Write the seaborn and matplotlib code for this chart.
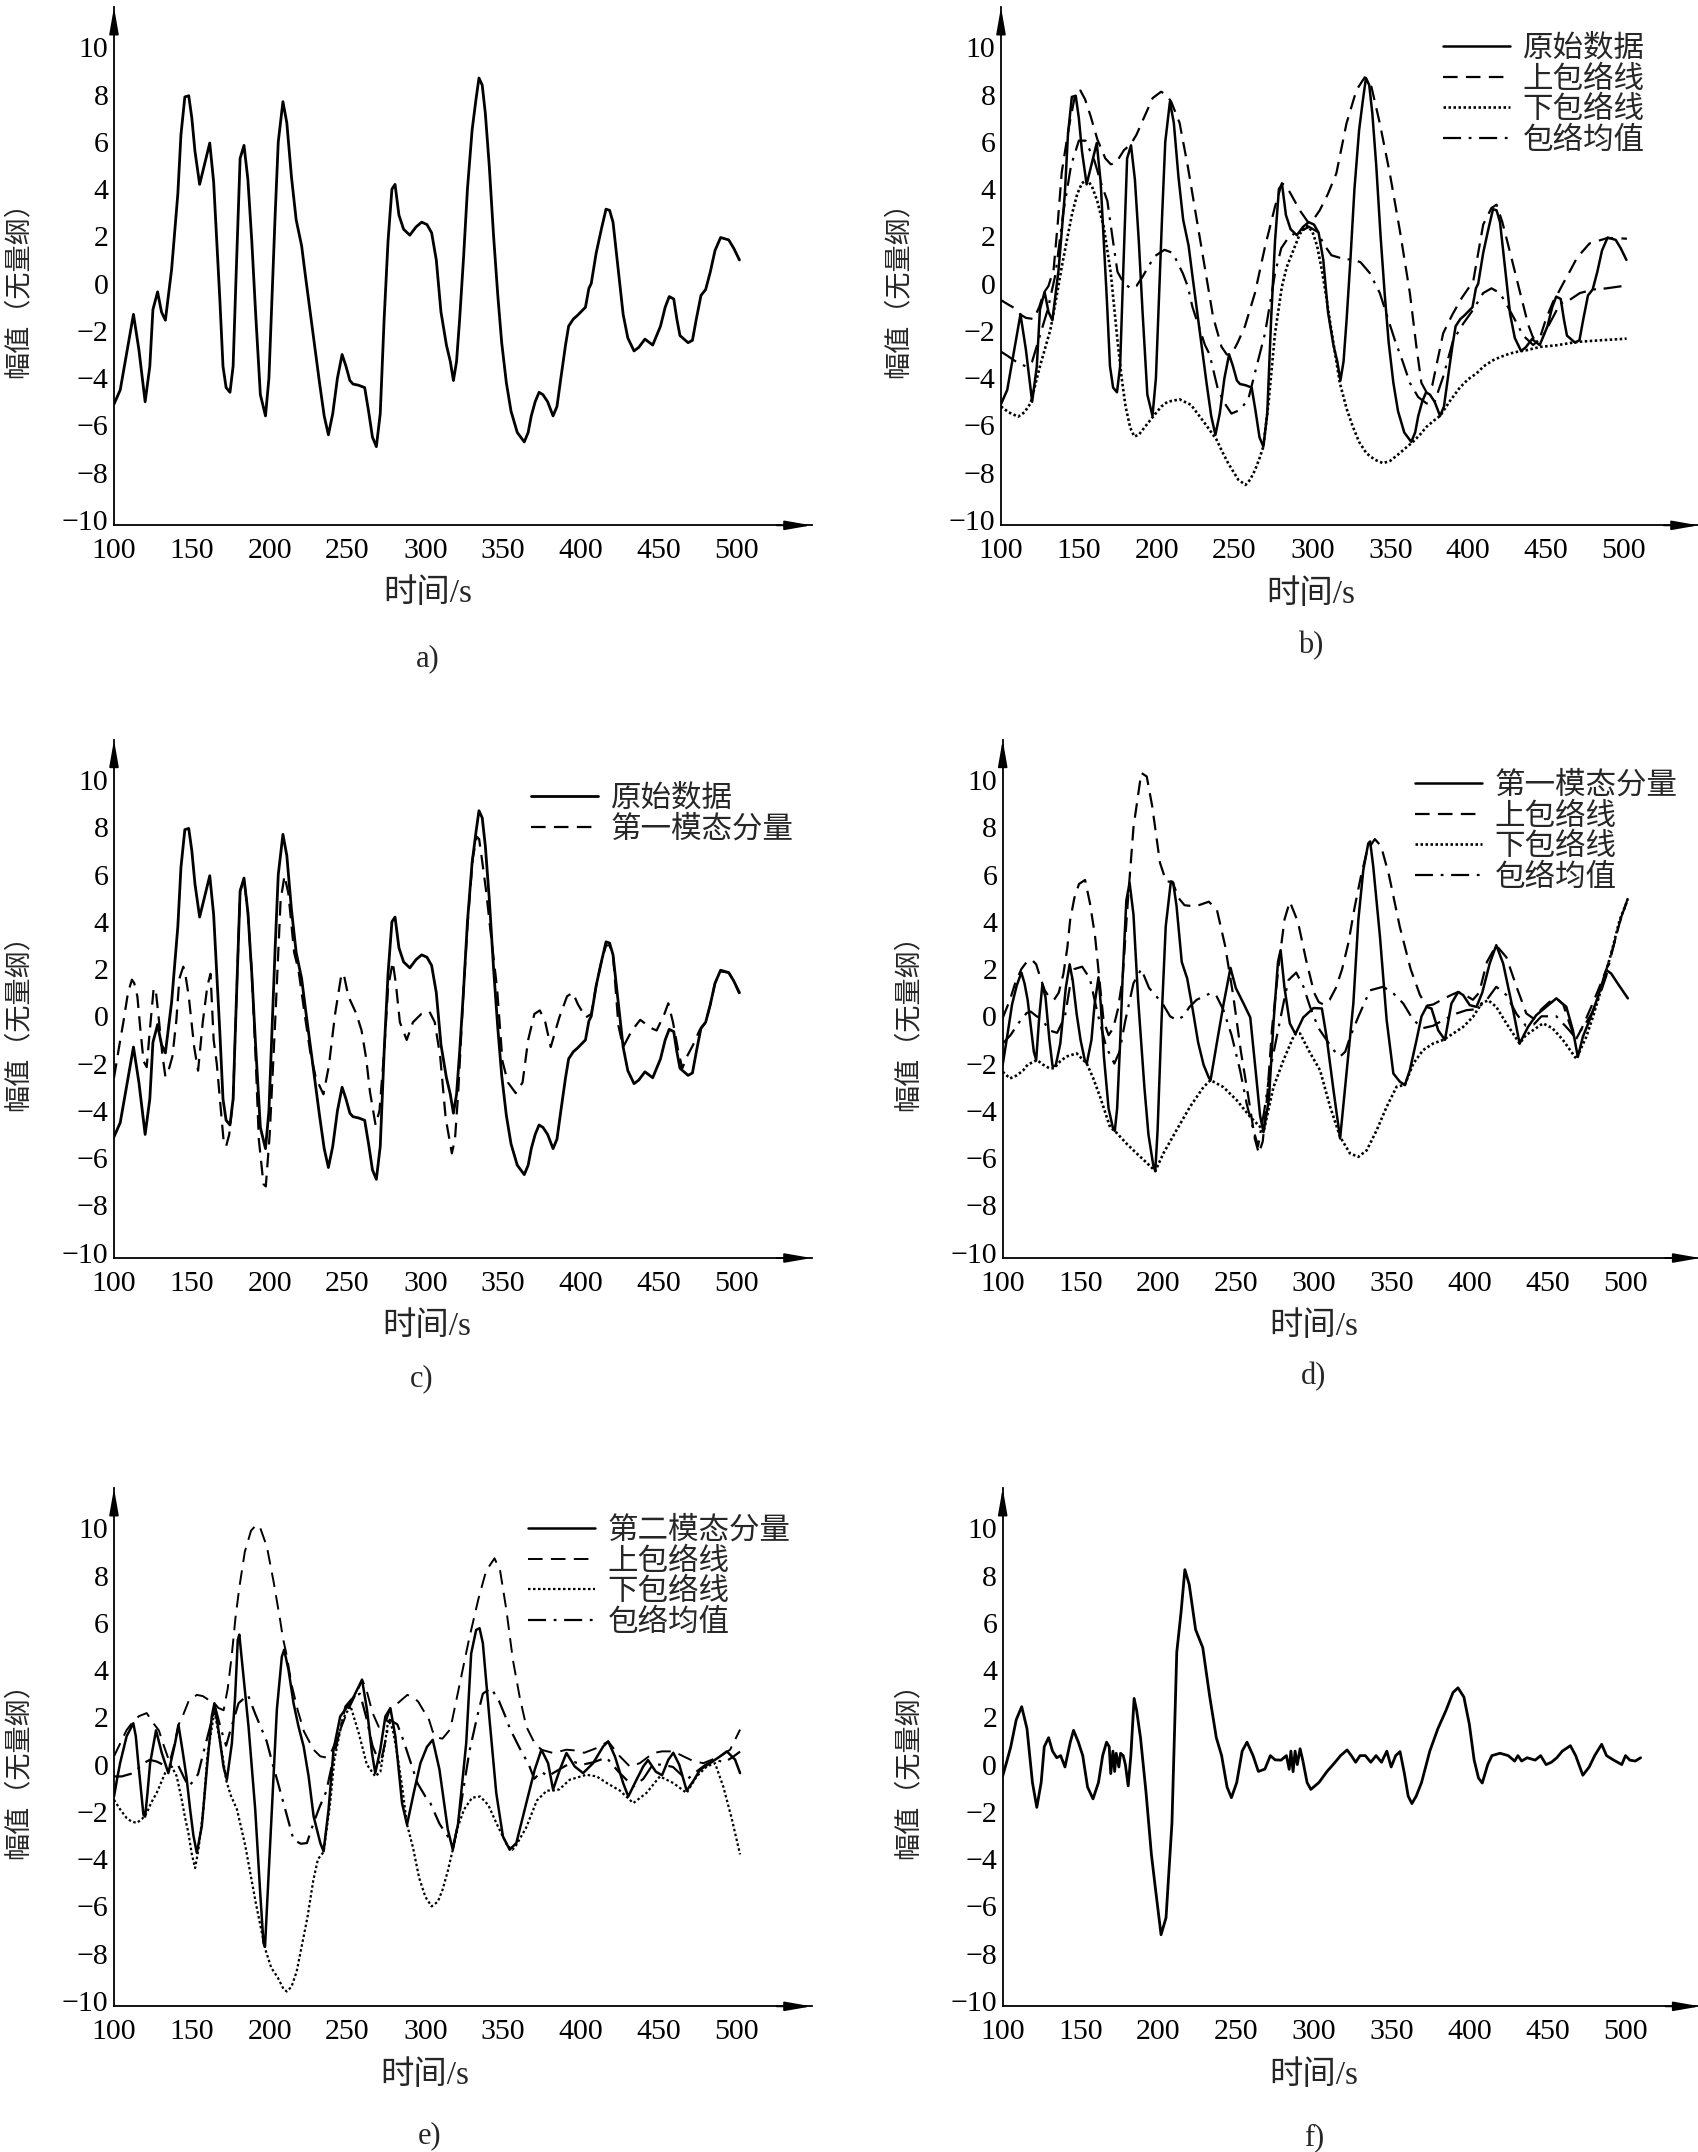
import matplotlib
matplotlib.use("Agg")
import matplotlib.pyplot as plt
import seaborn as sns

sns.set_style("white")
plt.rcParams['font.family'] = ['Liberation Serif', 'Noto Sans CJK SC', 'DejaVu Sans']
plt.rcParams['axes.unicode_minus'] = True
plt.rcParams['lines.scale_dashes'] = False

# ---------------- data (time in s, amplitude) ----------------
raw = [(100,-5.1),(104,-4.5),(108,-3.0),(112.5,-1.3),(116,-2.8),(120,-5.0),(123,-3.5),(125,-1.1),(128,-0.35),(130.5,-1.2),
       (133,-1.55),(137,0.6),(141,3.8),(143,6.3),(145.5,7.9),(148,7.95),(150,7.0),(152,5.6),(155,4.2),(158,5.0),
       (161.5,5.95),(164,4.3),(166,1.8),(168,-0.7),(170,-3.5),(172,-4.4),(174.5,-4.6),(176.5,-3.5),(178.5,0.5),(181,5.3),
       (183.5,5.85),(186,4.4),(188.5,1.8),(191,-1.3),(194,-4.7),(197.3,-5.6),(199.5,-4.0),(201.5,-0.5),(203.5,2.9),(205.5,6.0),
       (208.5,7.7),(211,6.8),(214,4.5),(217,2.7),(220.5,1.6),(223,0.3),(226,-1.2),(229,-2.7),(232,-4.2),(235,-5.6),
       (237.7,-6.4),(240.5,-5.5),(243.5,-4.0),(246.5,-3.0),(249,-3.5),(251.5,-4.1),(253.5,-4.25),(257,-4.3),(261,-4.4),(263.5,-5.4),
       (266,-6.5),(268.5,-6.9),(271,-5.5),(273.5,-1.5),(276,1.8),(278.5,4.0),(280.5,4.2),(283,2.9),(286,2.3),(290,2.05),
       (294,2.4),(297.6,2.6),(301,2.5),(304,2.15),(307,1.0),(310,-1.2),(313.5,-2.6),(316,-3.3),(318,-4.1),(320,-3.3),
       (322,-1.5),(324.5,1.1),(327,4.0),(330,6.5),(332.5,7.8),(334.4,8.7),(336.5,8.4),(338.5,7.2),(341,5.0),(343.8,2.0),
       (346.5,-0.5),(349,-2.5),(352,-4.2),(355,-5.4),(359,-6.3),(363.5,-6.7),(366,-6.3),(368,-5.6),(370.5,-5.0),(373,-4.6),
       (375.5,-4.7),(378.5,-5.0),(382,-5.6),(384.5,-5.2),(387,-4.0),(390,-2.6),(392,-1.8),(395,-1.5),(397.6,-1.35),(402.8,-1.0),
       (405,-0.2),(406.5,0.0),(409.7,1.3),(413,2.3),(416,3.15),(418.3,3.1),(420.5,2.6),(423.5,0.8),(427,-1.3),(430,-2.3),
       (434,-2.85),(437,-2.7),(441,-2.35),(446,-2.6),(451,-1.8),(454,-1.0),(456.6,-0.55),(459.5,-0.65),(461.5,-1.5),(463.5,-2.2),
       (468.7,-2.5),(471.5,-2.4),(474,-1.5),(477,-0.5),(480,-0.25),(483,0.5),(486,1.4),(489.6,1.95),(494.8,1.85),(498,1.5),
       (501.7,1.0)]

b_upper = [(100,-0.7),(105,-0.9),(109,-1.05),(112.3,-1.3),(116,-1.45),(121,-1.5),(124.5,-1.0),(127.4,-0.4),(130.5,-0.1),(133.8,0.6),
           (136.5,2.6),(139,4.7),(143.5,6.6),(147.8,8.05),(151,8.17),(154,7.8),(157.5,7.1),(161.9,6.1),(167,5.3),(170.5,5.05),
           (173.7,5.1),(179,5.65),(183.4,5.9),(187,6.3),(191,6.9),(197.4,7.85),(202.8,8.12),(206,8.0),(209.3,7.7),(214.7,6.8),
           (220,4.95),(225.4,2.83),(230.8,0.72),(236.2,-1.4),(241.6,-2.67),(245,-3.0),(248,-3.0),(252,-2.5),(256.7,-1.8),(263.1,-0.4),
           (269.6,1.57),(276,3.26),(280.4,4.25),(283.5,4.1),(286.9,3.7),(291.9,3.1),(297.2,2.6),(300,2.65),(304.7,3.1),(310,3.8),
           (315.4,4.67),(321.9,6.78),(328.3,8.19),(333.6,8.73),(337.9,8.33),(343.3,6.78),(349.7,4.67),(356.1,2.27),(362.6,-0.4),(366.8,-2.67),
           (370,-4.2),(373.3,-4.6),(377,-4.3),(384,-2.1),(390,-1.3),(396,-0.6),(403.3,0.1),(409.7,2.5),(415,3.2),(418.3,3.34),
           (422,2.6),(426.8,1.36),(433.2,-0.33),(438.6,-1.74),(441.8,-2.3),(446.1,-2.3),(450,-1.5),(454.7,-0.75),(456.6,-0.55),(461,0.0),
           (466,0.6),(470,1.1),(478,1.7),(489,1.92),(496,1.92),(502,1.9)]

b_lower = [(100,-5.2),(105,-5.45),(111,-5.63),(115,-5.45),(119,-5.06),(125,-3.5),(131.7,-1.96),(135,-0.8),(139,0.7),(142.5,1.9),
           (145.7,2.97),(149,3.8),(152,4.25),(155.4,4.4),(158.5,4.1),(161.8,3.5),(166,2.4),(170.5,0.45),(174.8,-2.4),(177.5,-4.0),
           (180,-5.2),(183,-6.1),(185.6,-6.47),(188.5,-6.4),(192,-6.1),(198.5,-5.56),(203,-5.2),(207,-5.0),(214.7,-4.9),(222,-5.13),
           (230.8,-5.9),(238.4,-6.6),(242,-7.1),(245.9,-7.6),(252.4,-8.3),(257.1,-8.52),(260,-8.3),(263.1,-7.9),(266,-7.4),(268.5,-6.9),
           (271.8,-5.06),(276,-2.1),(280.4,-0.13),(283.5,0.7),(287,1.28),(291.9,2.1),(296.6,2.45),(300,2.2),(303,1.6),(306,0.6),
           (309,-0.6),(312,-1.9),(317.6,-4.2),(322,-5.3),(326,-6.06),(330,-6.7),(334.7,-7.18),(340,-7.45),(345.4,-7.6),(350,-7.5),
           (356,-7.18),(360,-6.95),(364.7,-6.69),(369,-6.4),(373.3,-6.06),(378,-5.8),(382,-5.6),(388,-5.0),(394.7,-4.4),(400,-4.05),
           (405.4,-3.8),(410,-3.5),(416.1,-3.24),(421,-3.1),(426.8,-2.96),(432,-2.88),(437.5,-2.82),(446.1,-2.68),(456.8,-2.61),(469.7,-2.47),
           (484.7,-2.4),(501.8,-2.33)]

b_mean = [(100,-2.88),(104,-3.05),(108,-3.23),(112,-3.4),(116,-3.5),(120,-3.3),(125,-2.2),(130,-1.1),(135,0.4),(140,3.0),
          (145,5.0),(150,6.05),(154.3,6.05),(160,5.2),(164,4.3),(168.3,3.5),(171.5,2.0),(174.8,0.5),(179,0.0),(183.4,-0.2),
          (187,-0.1),(191,0.3),(198.5,1.15),(205,1.43),(210.3,1.3),(216.8,0.43),(220,-0.13),(223,-1.0),(227,-1.8),(231,-2.6),
          (234,-3.0),(239.4,-4.5),(244,-5.1),(248,-5.5),(253.4,-5.35),(258.8,-4.9),(263,-3.8),(269.6,-2.1),(276,0.44),(280,1.5),
          (283.6,1.85),(288,2.1),(293,2.25),(298,2.4),(303,2.2),(308,1.6),(312.2,1.2),(319.7,1.05),(327,1.0),(331,0.9),
          (336.8,0.45),(343.3,-0.4),(348.6,-1.5),(353,-2.4),(358,-3.3),(362.6,-4.2),(367.9,-4.8),(373.3,-5.07),(378,-5.1),(384,-3.94),
          (390.4,-2.4),(396.8,-1.7),(403.3,-1.1),(409.7,-0.4),(415,-0.2),(420.4,-0.4),(424,-0.8),(429,-1.4),(435.4,-2.2),(441.8,-2.6),
          (448.2,-2.2),(454.7,-1.4),(459,-0.85),(465,-0.7),(471.8,-0.4),(480.4,-0.25),(488.9,-0.2),(499.7,-0.1),(502,-0.1)]

c_imf1 = [(100,-2.6),(103,-1.4),(106,-0.25),(109,1.0),(111.5,1.55),(113,1.4),(115,0.85),(117,-0.6),(119,-1.9),(121,-2.15),
          (123,-0.6),(125.5,1.2),(127,1.0),(129,-0.25),(131,-1.6),(133,-2.55),(135,-2.3),(137.5,-1.7),(140,-0.2),(142,1.6),
          (144.5,2.1),(146,1.7),(148,0.85),(151.5,-1.3),(154,-2.3),(157,-0.25),(160,1.3),(162,1.8),(164,-1.0),(166,-2.0),
          (168,-3.5),(170.5,-5.35),(172,-5.5),(174,-5.0),(176.5,-3.5),(178.5,0.5),(181,5.3),(183.5,5.8),(186,4.4),(188.5,1.8),
          (191,-1.8),(193,-5.2),(196,-7.1),(197.5,-7.2),(200,-5.0),(203.5,-0.25),(207,4.9),(209.5,5.95),(212,5.2),(215.7,2.7),
          (218.5,1.95),(222,0.3),(226,-1.5),(229.6,-2.6),(234.5,-3.3),(238,-2.1),(242,0.1),(246,1.75),(247.5,1.8),(250.5,0.85),
          (255.7,0.1),(259,-0.6),(262,-1.8),(264.4,-3.2),(268,-4.6),(270.5,-4.0),(273.5,-1.5),(276,1.2),(279,2.3),(281,1.4),
          (283.6,-0.25),(288,-1.0),(292,-0.25),(297.4,0.1),(302.6,0.2),(306,-0.25),(309.5,-1.7),(313,-4.3),(317,-5.8),(319,-5.2),
          (321,-3.3),(324.5,1.1),(327,3.8),(330.4,6.7),(333,7.6),(334.5,7.5),(336,6.8),(339,5.3),(342,3.5),(346,1.2),
          (349.5,-1.9),(353,-2.8),(358,-3.25),(362.4,-2.8),(366,-1.0),(370,0.1),(373.5,0.25),(377,-0.25),(380.5,-1.3),(386,-0.05),
          (391,0.85),(394.7,1.0),(398,0.5),(403,-0.05),(406.5,0.1),(409.7,1.3),(413,2.3),(416,3.0),(418.3,3.0),(420.5,2.6),
          (424,-0.4),(427,-1.3),(432.6,-0.6),(438,-0.15),(445,-0.5),(448.5,-0.6),(453.5,0.1),(456,0.55),(459,-0.25),(462.5,-1.5),
          (465,-2.2),(468,-1.7),(472,-1.2),(476,-0.6),(480,-0.25),(483,0.5),(486,1.4),(489.6,1.9),(494.8,1.85),(498,1.5),
          (501.7,0.95)]

d_imf1 = [(100,-2.05),(103,-0.8),(106,0.5),(109,1.3),(112,1.85),(114,1.4),(116,0.7),(120,-1.5),(121.5,-1.85),(123.5,0.0),
          (125.5,1.35),(127.5,0.8),(130,-1.0),(132,-2.1),(134,-2.1),(137,-1.15),(140.5,1.2),(143,2.2),(145,1.5),(147.5,0.1),
          (150,-1.0),(152.7,-1.85),(154,-2.0),(157,-1.0),(159,0.5),(161.5,1.65),(163,0.5),(165,-1.7),(168,-3.9),(170.7,-4.7),
          (172,-4.85),(173.5,-3.9),(175.5,-1.0),(177,1.6),(179.4,4.9),(181.5,5.65),(184,4.3),(187,0.7),(191,-3.0),(193.6,-5.0),
          (196.7,-6.3),(198,-6.55),(199.5,-4.8),(202,-0.2),(204.7,3.8),(208,5.7),(209.5,5.65),(211.6,4.7),(215,2.3),(218.5,1.6),
          (222,0.3),(225.5,-1.1),(229,-2.05),(232.4,-2.6),(233.5,-2.7),(237.6,-1.1),(241.8,0.5),(246.3,2.05),(249.7,1.2),(255,0.5),
          (259,-0.05),(262.6,-2.4),(265.3,-4.2),(267.5,-4.9),(271,-3.5),(274,-0.2),(276.8,2.3),(278.5,2.8),(281,1.2),(284.4,-0.3),
          (288,-0.75),(293,-0.05),(299.6,0.35),(305,0.33),(308,-0.87),(312.4,-3.1),(316.7,-5.17),(321,-2.28),(325.2,0.54),(328.4,4.07),
          (331.6,6.19),(334.8,7.32),(336,7.4),(338,6.33),(342.3,3.37),(346.6,-0.16),(350.9,-2.42),(355.1,-2.77),(358.3,-2.91),(361.5,-2.28),
          (365.8,-1.0),(369,0.0),(372.2,0.4),(375.4,0.33),(379.7,-0.59),(384,-1.0),(388.2,0.54),(392.5,1.03),(395.7,0.9),(400,0.47),
          (404.3,0.4),(408,1.0),(412.8,2.24),(417,3.01),(421.4,2.24),(427.8,0.26),(432,-1.15),(437.4,-0.45),(442.7,0.05),(449.1,0.4),
          (455.6,0.76),(462,0.4),(466.2,-0.59),(469.4,-1.72),(472.6,-0.87),(476.9,-0.16),(482.3,0.83),(487.6,1.96),(490.8,1.81),(495,1.39),
          (501.5,0.76)]

d_upper = [(100,-0.07),(104.7,0.7),(108,1.4),(112,2.0),(115.4,2.3),(118.6,2.4),(121.5,2.2),(124,1.67),(127,1.1),(130,0.8),
           (133,0.7),(136,1.0),(139,1.8),(141.5,2.9),(143.3,4.07),(146,5.0),(149,5.6),(152.9,5.77),(156,4.8),(159.3,3.4),
           (161.5,1.96),(164.8,-0.2),(168,-0.8),(171,-0.5),(174,0.3),(177,1.6),(180.4,4.9),(184,8.0),(189,10.3),(192.5,10.15),
           (196,8.9),(201,6.5),(205,5.7),(209,5.7),(213,5.0),(216.8,4.7),(223.7,4.65),(232.4,4.85),(237.6,4.5),(242.8,3.0),
           (248,0.9),(253,-1.5),(258,-3.5),(262,-5.2),(264.5,-5.8),(267,-5.3),(270,-3.3),(273,-0.5),(277.5,2.3),(281,4.1),
           (284.4,4.85),(289.6,4.0),(294.8,2.4),(300,1.0),(303,0.6),(306,0.5),(310,0.7),(314,1.2),(318,2.0),(322,3.1),
           (326,4.6),(330,5.9),(334,7.0),(339,7.5),(343,7.2),(348,6.0),(355,3.8),(362,2.0),(368,0.9),(372.2,0.45),
           (376.5,0.5),(382,0.7),(388,0.9),(392.5,1.03),(397,0.9),(402,0.7),(406,1.0),(411,2.3),(417,3.0),(423.5,2.5),
           (430,1.25),(436.3,0.12),(441,-0.1),(446,0.3),(451,0.6),(455.6,0.76),(460,0.5),(464,-0.3),(468,-1.0),(472,-0.5),
           (478,0.4),(483,1.2),(487.6,1.96),(492,2.9),(496,3.9),(501.5,5.0)]

d_lower = [(100,-2.35),(104.7,-2.63),(109,-2.5),(113,-2.3),(116,-2.05),(119.7,-1.93),(122,-1.85),(126,-2.05),(130,-2.2),(133,-2.2),
           (137,-1.9),(141,-1.7),(147.5,-1.57),(154,-2.0),(158,-2.6),(162.5,-3.4),(169,-4.7),(172,-4.85),(179.7,-5.4),(186,-5.8),
           (192.5,-6.2),(198,-6.55),(203.2,-5.8),(211.8,-4.8),(220.3,-3.83),(228.9,-3.0),(233.5,-2.7),(241.8,-3.0),(250.3,-3.55),(258.9,-4.25),
           (265.3,-4.68),(267.5,-4.9),(270.5,-4.0),(273.9,-3.0),(280.3,-1.86),(286.7,-0.87),(288,-0.75),(291,-0.73),(297,-1.5),(303.8,-2.28),
           (310.3,-3.83),(316.7,-5.1),(323,-5.8),(328.4,-5.95),(333.8,-5.67),(340.2,-4.82),(346.6,-3.83),(353,-2.98),(358.3,-2.9),(363.7,-2.0),
           (370,-1.43),(376.5,-1.15),(382.9,-1.0),(389.3,-0.73),(395.7,-0.45),(402.1,-0.02),(407.5,0.54),(411.8,0.68),(417,0.4),(423.5,-0.3),
           (432,-1.15),(436,-0.8),(440.6,-0.59),(447,-0.3),(453,-0.5),(459.8,-1.0),(468.4,-1.8),(474.8,-0.87),(479.1,-0.02),(485.5,1.39),
           (491.9,2.94),(496.2,4.07),(501.5,4.95)]

d_mean = [(100,-1.15),(105,-0.8),(110,-0.3),(115.4,0.14),(118,0.2),(121.8,0.0),(125,-0.1),(130,-0.6),(135,-0.7),(140,0.0),
          (143,1.2),(146,2.0),(151,2.1),(156,1.6),(161,0.1),(166.5,-1.3),(171.7,-2.0),(175,-1.5),(178.7,-0.2),(184,1.4),
          (189,2.0),(194,1.2),(198,0.9),(203,0.5),(207.5,0.0),(211.8,-0.16),(216,0.0),(220,0.4),(224.6,0.7),(233.2,0.97),
          (237,0.9),(241.8,0.26),(247,-0.8),(252.5,-2.3),(256.7,-3.7),(261,-4.8),(264,-5.5),(268,-4.0),(271.7,-2.3),(276,-0.87),
          (280.3,0.54),(283.5,1.53),(288.5,1.85),(293.2,1.25),(297.4,0.4),(302.8,-0.5),(308,-1.0),(312,-1.4),(316.7,-1.7),(320,-1.5),
          (323,-0.9),(328.4,-0.02),(335.9,1.1),(344.4,1.25),(350.9,0.97),(357.3,0.54),(363.7,-0.16),(370,-0.5),(376.5,-0.4),(382.9,-0.16),
          (391.5,0.12),(397.9,0.26),(404.3,0.3),(410.7,0.68),(417,1.25),(423.5,0.9),(430,0.1),(436,-0.4),(441,-0.35),(446,0.0),
          (451.3,0.0),(455.6,0.0),(459.8,-0.3),(464,-0.6),(467.3,-0.87),(472.6,-0.5),(479,0.2),(484,1.0),(487.6,1.7),(492,2.9),
          (496.2,4.0),(501.5,4.97)]

e_imf2 = [(100,-1.35),(102,-0.6),(103.9,0.06),(108.1,1.2),(112.4,1.75),(114,1.2),(115.6,0.06),(118.9,-2.12),(120,-2.2),(121.5,-1.2),
          (123.2,0.06),(127,1.45),(130.7,0.49),(134.9,-0.36),(139.2,0.9),(141.4,1.68),(144,0.6),(146.5,-0.5),(148.9,-1.9),(151,-3.0),
          (153.2,-3.74),(156.4,-2.6),(159.6,-0.2),(162.8,2.04),(164.5,2.6),(167.1,1.47),(170.3,-0.08),(172.5,-0.64),(175.7,0.9),(177.8,2.88),
          (179.5,5.28),(180.5,5.5),(182.1,4.43),(186.4,1.61),(190.7,-1.9),(193.9,-5.43),(196,-7.55),(197,-7.7),(198.2,-6.1),(201.4,-1.9),
          (204.6,2.33),(207.8,4.57),(209.3,4.86),(212.1,4.0),(215.3,2.6),(218.5,1.61),(221.8,0.77),(225,-0.5),(228.2,-2.19),(232.5,-3.32),
          (234.6,-3.67),(237.8,-1.9),(241,0.63),(245.3,2.04),(250,2.46),(254,2.88),(259.3,3.59),(262.5,2.32),(265.7,0.49),(267.8,-0.36),
          (271,0.63),(274.3,2.04),(277.5,2.39),(280.7,1.19),(285,-1.63),(288.2,-2.54),(292.5,-1.2),(296.8,0.06),(301,0.75),(304.7,1.05),
          (309,-0.2),(314.4,-2.75),(317.6,-3.6),(321,-2.5),(326.2,0.9),(329.4,4.7),(332.6,5.7),(334.8,5.77),(336.9,5.14),(341.2,1.9),
          (345.5,-1.2),(349.8,-3.04),(354.1,-3.6),(358.4,-3.32),(364.8,-1.63),(370.2,-0.22),(374.5,0.63),(378.8,0.06),(382,-1.06),(386.3,-0.22),
          (390.6,0.49),(395.9,-0.08),(401.3,-0.36),(407.7,0.06),(414.2,0.77),(417.4,0.98),(421.7,0.35),(427,-0.78),(430.3,-1.35),(435.6,-0.64),
          (439.9,-0.08),(443,0.19),(448,-0.3),(452,-0.45),(456,0.2),(459.2,0.5),(463,0.0),(467.8,-1.1),(472,-0.7),(476.4,-0.22),
          (482.8,0.06),(489.3,0.35),(493.6,0.56),(498.9,0.21),(502.1,-0.36)]

e_upper = [(100,0.35),(104,0.9),(108,1.45),(112,1.8),(116,2.05),(121,2.18),(125.3,1.75),(128.8,1.45),(132,0.8),(135.7,0.1),
           (139,0.9),(141.4,1.68),(144.4,2.1),(148,2.7),(153.2,2.95),(157,2.9),(161.7,2.7),(164.5,2.6),(167,2.4),(170.4,2.3),
           (173,3.2),(175.6,4.6),(178,6.2),(180.5,7.5),(184,9.0),(188,9.9),(191.5,10.15),(194,10.0),(198.2,9.22),(202.5,7.74),
           (206.7,6.12),(208.5,5.35),(211,4.6),(214,3.4),(218,2.3),(222,1.4),(228.2,0.63),(232.5,0.35),(236.3,0.3),(240,0.6),
           (243.3,1.14),(250.2,2.29),(257.2,3.24),(259.3,3.6),(262,3.2),(266,2.2),(270,1.6),(274.5,1.8),(277.5,2.39),(281.4,2.55),
           (288.4,2.95),(292,2.85),(295.3,2.67),(302.3,1.9),(304.7,1.4),(307.5,1.14),(311,1.1),(316,1.5),(322,3.4),(328,5.3),
           (334,7.0),(339,8.2),(344.4,8.73),(348,8.2),(352,6.55),(356.2,4.43),(360.5,2.88),(364.8,1.61),(370.2,0.9),(374.5,0.63),
           (382,0.49),(390.6,0.63),(396,0.6),(402,0.5),(410,0.7),(417.4,0.98),(424.9,0.35),(431.3,-0.08),(437.7,0.06),(446.4,0.49),
           (452,0.56),(459.2,0.56),(465.7,0.35),(472,0.15),(478.5,0.06),(489.3,0.35),(495.7,0.63),(502.1,1.48)]

e_lower = [(100,-1.49),(104,-1.9),(108.1,-2.26),(111,-2.4),(114.6,-2.47),(118,-2.3),(121,-2.05),(124,-1.6),(127.4,-1.2),(130,-0.8),
           (132.8,-0.36),(135,-0.2),(137.1,-0.08),(140.3,-0.5),(143.5,-1.49),(145.5,-2.2),(147.8,-2.9),(150,-3.8),(152.1,-4.38),(154.2,-3.6),
           (157.4,-1.9),(160,0.38),(164.5,2.28),(168.7,0.76),(172.2,-0.7),(175,-1.3),(179,-1.9),(184.3,-3.43),(191.2,-5.9),(197.1,-7.8),
           (201,-8.6),(205.1,-9.0),(208.9,-9.5),(211,-9.6),(214,-9.4),(217.3,-8.76),(219.6,-8.0),(224.2,-6.48),(228,-4.9),(231,-4.0),
           (234.6,-3.7),(238.9,-1.6),(241.5,0.2),(246.7,1.9),(251.9,2.48),(257.2,1.33),(262.4,0.0),(267.8,-0.5),(271.1,-0.3),(274,0.9),
           (276.2,1.9),(279,1.5),(282,0.4),(285,-0.9),(288.2,-2.54),(292,-3.5),(296,-4.8),(300,-5.6),(304,-6.0),(308,-5.8),
           (311,-5.3),(314.4,-4.5),(317.6,-3.6),(321,-2.6),(324.8,-1.9),(330,-1.4),(335.2,-1.35),(340.4,-1.71),(345.6,-2.48),(352.6,-3.43),
           (356,-3.6),(358.4,-3.4),(364.7,-2.67),(371.6,-1.52),(378,-1.1),(382,-1.1),(386,-1.05),(392.7,-0.64),(403.4,-0.43),(410,-0.5),
           (417,-0.8),(424.9,-1.1),(433.5,-1.63),(442,-1.2),(450.6,-0.5),(459.2,-0.78),(467.8,-1.2),(474.2,-0.5),(480.7,-0.08),(486,0.06),
           (491.4,-0.95),(496.8,-2.3),(502.1,-3.8)]

e_mean = [(100,-0.5),(105,-0.5),(111.4,-0.38),(115,-0.2),(118.9,0.06),(123,0.2),(127.4,0.13),(133.9,-0.08),(137,0.0),(141,0.0),
          (144.6,-0.5),(147.8,-0.92),(151,-0.7),(154,-0.4),(157.4,0.5),(161.7,1.6),(165,2.44),(168.7,1.5),(172,0.8),(175,1.5),
          (180,2.6),(186,2.95),(191,2.1),(198,1.0),(202,0.0),(205,-0.7),(210,-1.9),(215.3,-3.18),(220,-3.35),(223.9,-3.32),
          (228,-2.5),(232,-1.8),(236.3,-1.14),(241,0.3),(248.6,2.46),(254,2.88),(258,3.0),(262,2.0),(266,0.8),(271,0.0),
          (274,0.9),(277,1.9),(282,1.7),(286,1.0),(290,0.2),(295,-0.8),(300,-1.35),(303.2,-1.63),(309,-2.5),(314,-3.0),
          (318,-3.4),(321,-2.5),(324,-1.2),(328.3,0.57),(333.5,2.1),(336.9,3.0),(342.2,3.24),(347.4,2.67),(351,2.1),(354.3,1.52),
          (360.5,0.7),(366.4,0.0),(369.9,-0.6),(374.5,-0.3),(378.8,-0.5),(382,-0.36),(390,-0.05),(396,0.1),(401,0.0),(408,0.1),
          (416.3,0.3),(424,-0.3),(433.5,-0.93),(440,-0.6),(446,0.0),(452,0.0),(459,-0.1),(467.8,-0.64),(474,-0.3),(480,0.0),
          (486,0.2),(492,0.1),(497,0.3),(502.1,0.55)]

f_resid = [(100,-0.48),(102.5,0.1),(105.2,0.76),(108.7,1.9),(112.2,2.45),(115.6,1.52),(119.1,-0.76),(121.9,-1.81),(124.7,-0.76),(126.7,0.76),
           (129.5,1.14),(132,0.57),(134.7,0.29),(137.2,0.38),(140,-0.1),(143.4,0.95),(145.5,1.45),(148.6,0.95),(151.4,0.38),(154.5,-0.95),
           (158,-1.45),(161.5,-0.76),(164.2,0.38),(166.7,0.95),(168.4,0.76),(169.4,-0.38),(170.8,0.57),(171.9,-0.29),(172.9,0.48),(174.6,-0.1),
           (175.7,0.48),(177.4,0.38),(178.8,0.0),(180.6,-0.9),(182.3,0.38),(184.4,2.8),(186,2.3),(188.5,1.14),(192,-1.14),(195.5,-3.8),
           (197.9,-5.14),(199.7,-6.1),(201.7,-7.2),(204.9,-6.48),(208.7,-2.48),(211.8,4.76),(214.6,6.48),(217,8.25),(219.8,7.62),(223.9,5.71),
           (228.5,4.95),(233,2.86),(237.2,1.14),(240.6,0.38),(244.1,-0.95),(246.9,-1.4),(250.3,-0.76),(253.8,0.57),(256.9,0.95),(260.8,0.38),
           (264.2,-0.29),(268.4,-0.19),(271.9,0.38),(275,0.2),(278.8,0.19),(282.2,0.38),(284,-0.2),(285.1,0.57),(286.5,-0.3),(287.8,0.57),
           (289.2,0.0),(291,0.67),(292.7,0.19),(295.5,-0.76),(297.9,-1.05),(303.1,-0.76),(308.3,-0.29),(313.5,0.1),(317,0.38),(321.2,0.62),
           (323.9,0.38),(326.7,0.1),(329.5,0.38),(332.9,0.38),(336.4,0.1),(339.8,0.38),(343.3,0.1),(346.7,0.57),(349.5,-0.1),(352.4,0.38),
           (355.2,0.55),(358,-0.38),(360.4,-1.33),(362.8,-1.65),(365.6,-1.33),(369,-0.76),(374.3,0.57),(379.5,1.52),(384.7,2.29),(389.2,3.05),
           (392.4,3.25),(396.2,2.86),(399.7,1.71),(402.8,0.19),(405.6,-0.57),(408,-0.78),(411.5,0.0),(414.2,0.38),(419.4,0.48),(424.7,0.38),
           (428.8,0.15),(430.9,0.38),(433.3,0.15),(436.8,0.29),(442,0.19),(445.5,0.38),(449,0.0),(452.4,0.1),(455.9,0.29),(459.4,0.57),
           (464.6,0.8),(468,0.38),(472.6,-0.45),(476.7,-0.1),(480.2,0.38),(484.7,0.86),(487.8,0.38),(492.4,0.19),(497.6,0.0),(500,0.38),
           (502.8,0.19),(506.3,0.15),(509.7,0.29)]

x_ticks = [100, 150, 200, 250, 300, 350, 400, 450, 500]
y_ticks = [-10, -8, -6, -4, -2, 0, 2, 4, 6, 8, 10]
xlabel_text = "时间/s"
ylabel_text = "幅值（无量纲）"
panel_names = ["a)", "b)", "c)", "d)", "e)", "f)"]
lab_raw, lab_up, lab_low, lab_mean = "原始数据", "上包络线", "下包络线", "包络均值"
lab_imf1, lab_imf2 = "第一模态分量", "第二模态分量"

# ---------------- layout (pixels) ----------------
W, H, DPI = 1698, 2152, 100
fig = plt.figure(figsize=(W / DPI, H / DPI), dpi=DPI)
PXT, PXY = 1.557, 23.63
XMAX, YMAX, YMIN = 548, 11.7, -10.23

SOLID = '-'
DASH = (0, (10.5, 6))
DOT = (0, (1.8, 1.8))
DASHDOT = (0, (13, 5.5, 2, 5.5))


def fx(px):
    return px / W


def fy(py):
    return 1 - py / H


def make_ax(x0, y10):
    right = x0 + (XMAX - 100) * PXT
    top = y10 - (YMAX - 10) * PXY
    bottom = y10 + (10 - YMIN) * PXY
    ax = fig.add_axes([x0 / W, 1 - bottom / H, (right - x0) / W, (bottom - top) / H])
    return ax


def draw(ax, pts, ls, lw=1.8):
    t, v = zip(*pts)
    sns.lineplot(x=list(t), y=list(v), ax=ax, color='black', linewidth=lw,
                 linestyle=ls, estimator=None, sort=False, legend=False)


def finish(ax):
    ax.set_xlim(100, XMAX)
    ax.set_ylim(YMIN, YMAX)
    ax.set_xticks(x_ticks)
    ax.set_yticks(y_ticks)
    ax.set_xlabel("")
    ax.set_ylabel("")
    for s in ['top', 'right']:
        ax.spines[s].set_visible(False)
    for s in ['left', 'bottom']:
        ax.spines[s].set_linewidth(1.3)
        ax.spines[s].set_color('black')
    ax.tick_params(direction='in', length=10, width=1.2, labelsize=21.5,
                   colors='black')
    ax.tick_params(axis='x', pad=9)
    ax.tick_params(axis='y', pad=4)
    ax.patch.set_alpha(0)
    ap = dict(arrowstyle='-|>,head_length=1.6,head_width=0.28', color='black',
              lw=1.3, shrinkA=0, shrinkB=0)
    ax.annotate('', xy=(1.0, 0), xycoords='axes fraction', xytext=(0.95, 0),
                arrowprops=ap, annotation_clip=False)
    ax.annotate('', xy=(0, 1.0), xycoords='axes fraction', xytext=(0, 0.95),
                arrowprops=ap, annotation_clip=False)


def legend(ax, labels, px, py):
    ax.legend(handles=ax.get_lines()[:len(labels)], labels=labels,
              loc='upper left', bbox_to_anchor=(fx(px), fy(py)),
              bbox_transform=fig.transFigure, frameon=False, fontsize=22,
              handlelength=2.2, handletextpad=0.4, labelspacing=0.05,
              borderpad=0, borderaxespad=0)


# a
ax = make_ax(114, 47.3)
draw(ax, raw, SOLID, 2.0)
finish(ax)
# b
ax = make_ax(1001, 47.3)
draw(ax, raw, SOLID, 1.8)
draw(ax, b_upper, DASH, 1.6)
draw(ax, b_lower, DOT, 1.9)
draw(ax, b_mean, DASHDOT, 1.6)
finish(ax)
legend(ax, [lab_raw, lab_up, lab_low, lab_mean], 1443, 35)
# c
ax = make_ax(114, 780)
draw(ax, raw, SOLID, 2.0)
draw(ax, c_imf1, DASH, 1.6)
finish(ax)
legend(ax, [lab_raw, lab_imf1], 531, 785)
# d
ax = make_ax(1002.7, 780)
draw(ax, d_imf1, SOLID, 1.8)
draw(ax, d_upper, DASH, 1.6)
draw(ax, d_lower, DOT, 1.9)
draw(ax, d_mean, DASHDOT, 1.6)
finish(ax)
legend(ax, [lab_imf1, lab_up, lab_low, lab_mean], 1415, 772)
# e
ax = make_ax(114, 1528.3)
draw(ax, e_imf2, SOLID, 1.8)
draw(ax, e_upper, DASH, 1.4)
draw(ax, e_lower, DOT, 1.6)
draw(ax, e_mean, DASHDOT, 1.6)
finish(ax)
legend(ax, [lab_imf2, lab_up, lab_low, lab_mean], 528, 1517)
# f
ax = make_ax(1002.7, 1528.3)
draw(ax, f_resid, SOLID, 2.0)
finish(ax)

# axis titles and panel tags
ylab_pos = [(19, 283), (899, 283), (19, 1016), (909, 1016), (19, 1764), (909, 1764)]
xlab_pos = [(428, 594), (1311, 595), (427, 1327), (1314, 1327), (425, 2076), (1314, 2076)]
tag_pos = [(428, 659), (1311, 646), (422, 1379), (1314, 1377), (430, 2136), (1314, 2138)]
for i in range(6):
    fig.text(fx(ylab_pos[i][0]), fy(ylab_pos[i][1]), ylabel_text, rotation=90,
             ha='center', va='center', fontsize=19.5)
    fig.text(fx(xlab_pos[i][0]), fy(xlab_pos[i][1]), xlabel_text,
             ha='center', va='center', fontsize=24)
    fig.text(fx(tag_pos[i][0]), fy(tag_pos[i][1]), panel_names[i],
             ha='center', va='center', fontsize=22)

fig.savefig("out.png", dpi=DPI, facecolor='white')
